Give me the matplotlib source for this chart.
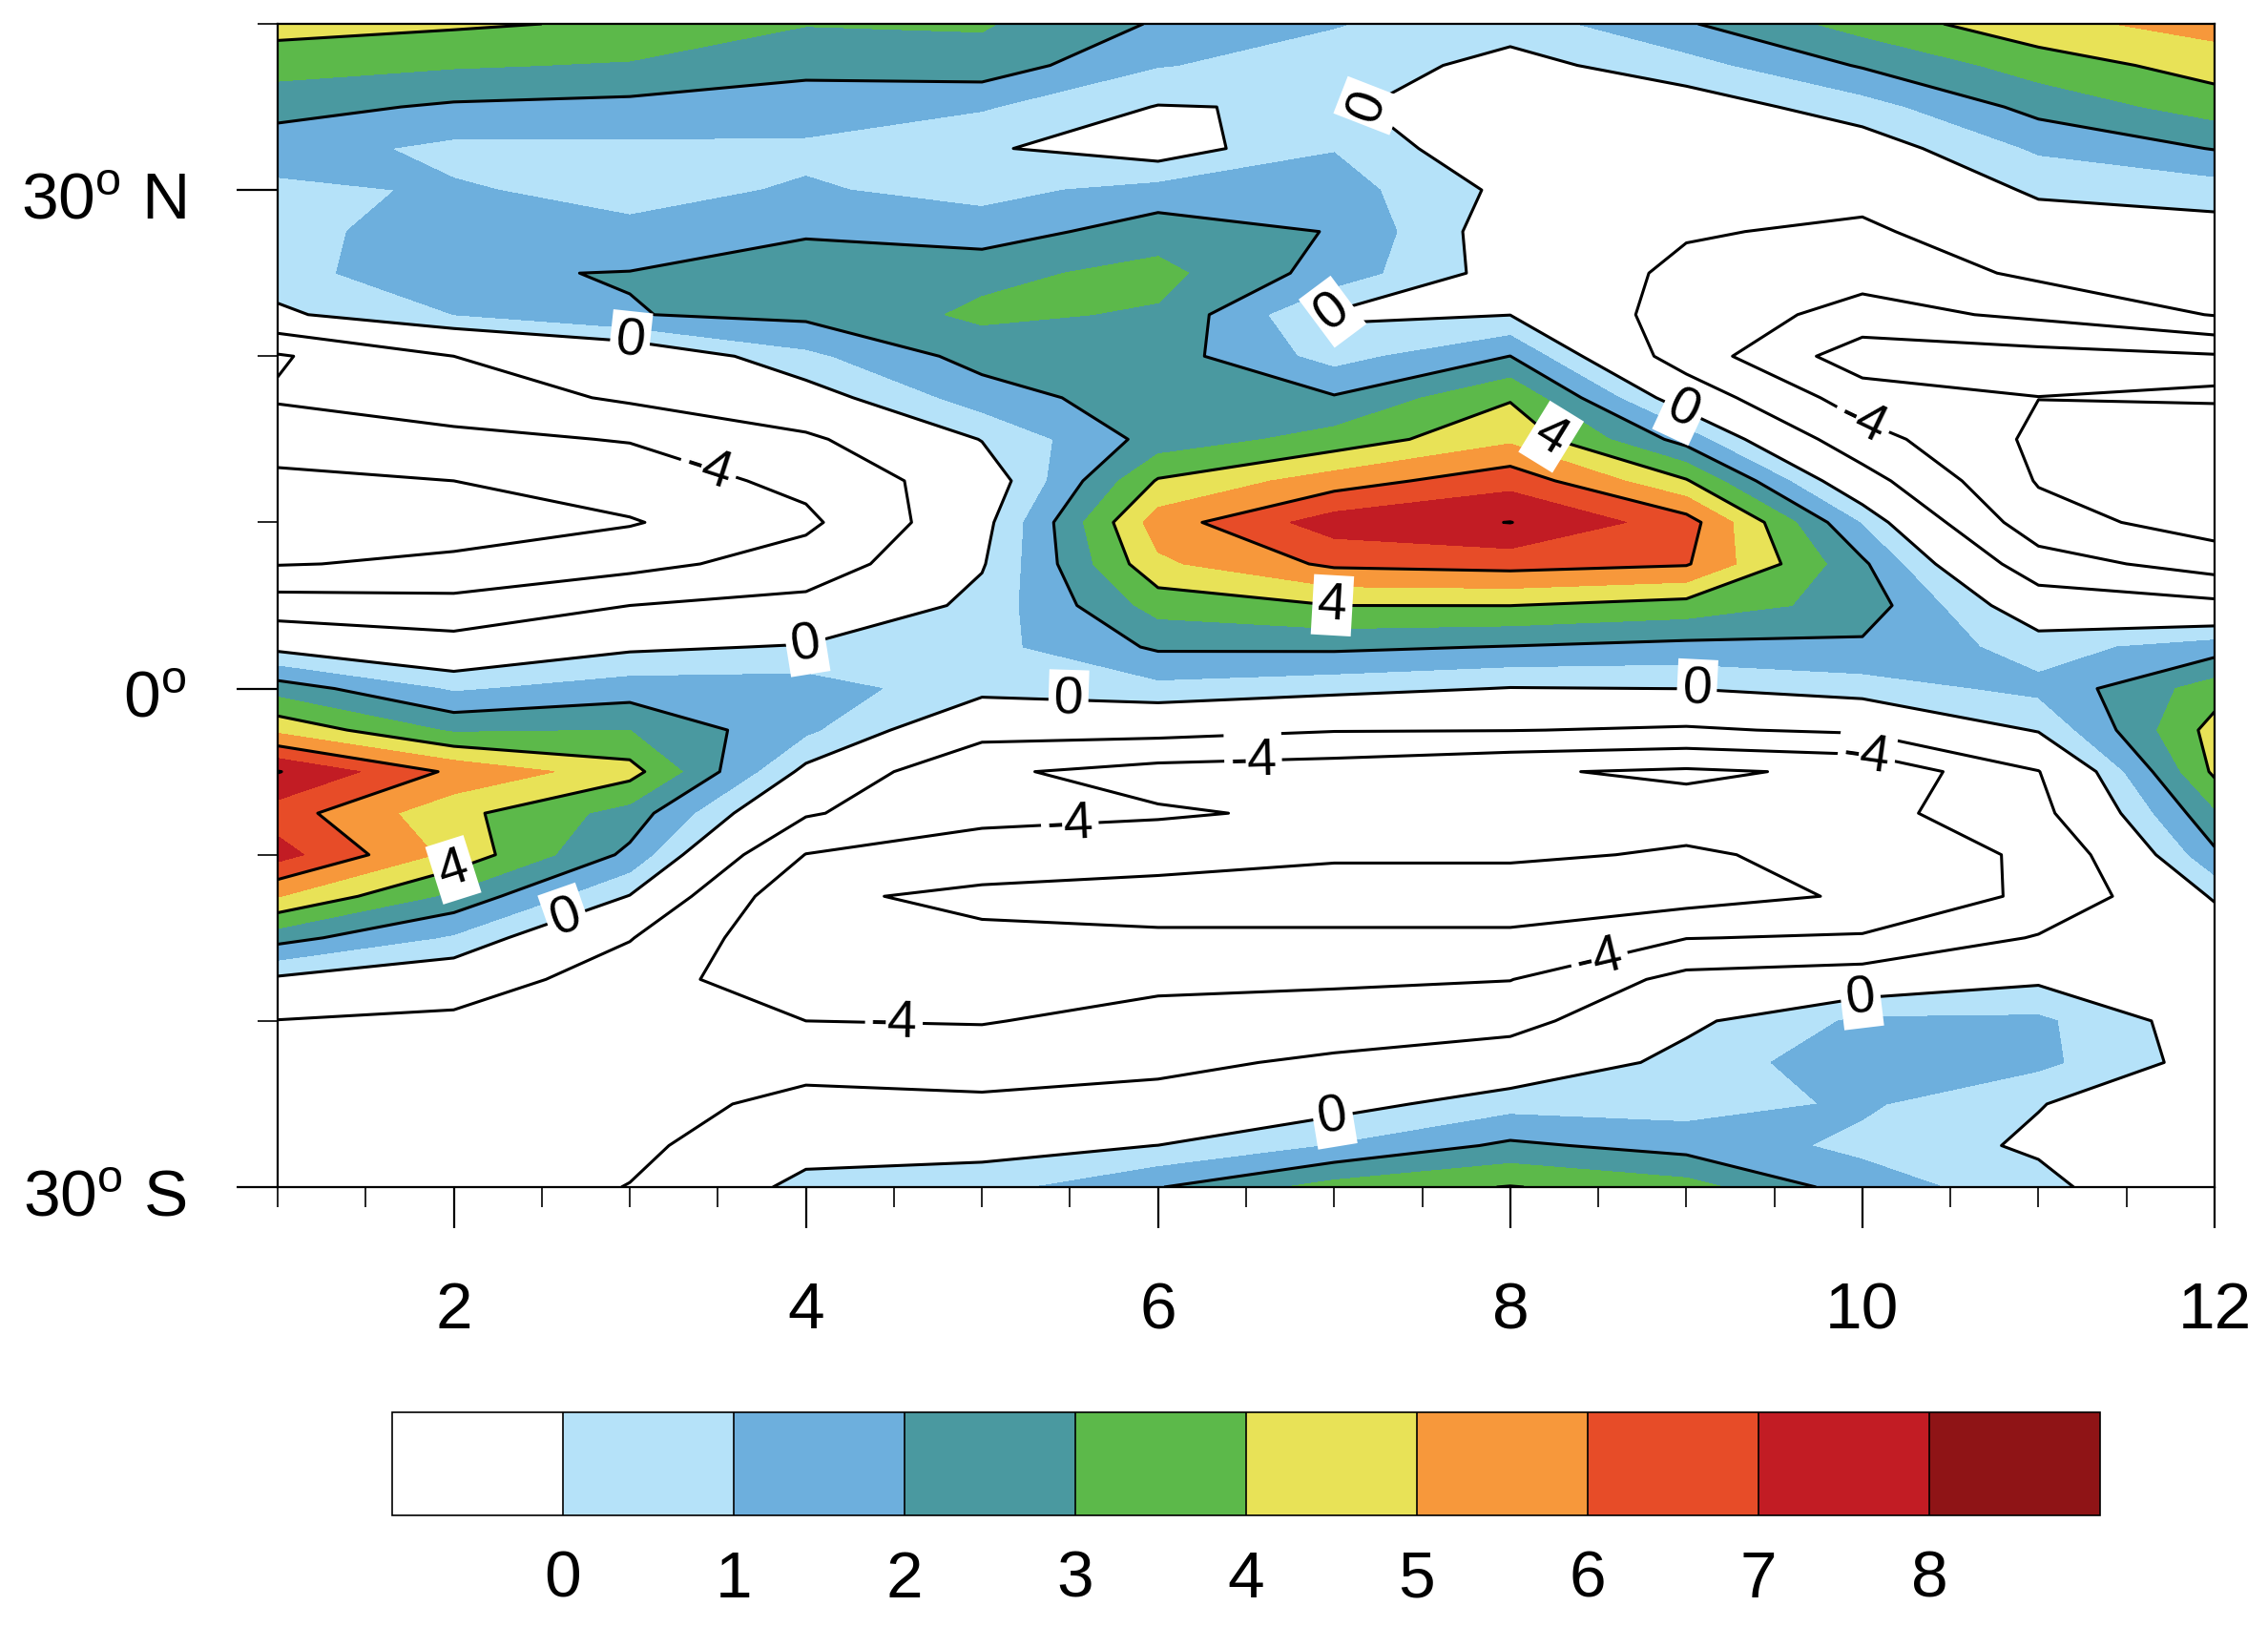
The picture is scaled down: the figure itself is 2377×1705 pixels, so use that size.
# month / latitude section with filled contours, NCL look
import numpy as np
import matplotlib
matplotlib.use('Agg')
import matplotlib.pyplot as plt
from matplotlib.transforms import Affine2D

plt.rcParams['font.family'] = ['Liberation Sans', 'DejaVu Sans']
plt.rcParams['mathtext.default'] = 'regular'

W, H = 2377, 1706

months = np.arange(1, 13)
lats = np.arange(40, -32.5, -2.5)

# values per month, from 40N down to 30S
m01 = [4.4,3.4,2.35,1.45,.8,.6,.55,-.21,-4.2,-3.8,-5.15,-6.4,-7,-6.1,-3,-.3,2.55,4.75,8.05,6.5,7.4,5.05,2.4,-.2,-2.05,-2.8,-3.2,-3.5,-3.6]
m02 = [4.15,3.1,1.85,.75,1.1,1.62,1.9,1.0,-2,-3.1,-4.4,-6.0,-6.7,-5.7,-3.3,-1.2,.85,2.85,5.8,4.3,4.7,2.75,.85,-.9,-2.4,-2.9,-3.1,-3.1,-3.0]
m03 = [3.85,2.9,1.7,.8,.7,1.2,2.04,1.96,-1.1,-1.7,-3.9,-5.0,-6.15,-4.6,-2.0,-.2,1.5,3.0,4.4,2.6,1.75,-.05,-1.9,-3.0,-3.1,-3.2,-2.7,-2.4,-1.95]
m04 = [3.05,2.25,1.55,.8,1.1,1.85,2.7,2.25,.75,-.55,-2.3,-3.5,-4.4,-3.1,-1.45,.1,1.5,1.2,-.3,-1.8,-4.05,-5.6,-5.8,-5.5,-4,-2.6,-1.5,-.6,.45]
m05 = [3.1,2.6,1.1,.13,.7,1.45,2.74,3.2,2.4,1.5,.05,-.82,-.4,-.1,.36,.65,.34,-1.3,-3.7,-3.6,-4.7,-6.5,-5.6,-5,-4.1,-3,-1.6,-.4,.6]
m06 = [1.9,1.05,-.05,-.6,1.35,2.55,3.3,2.88,2.5,2.6,2.4,4.1,5.5,4.8,3.4,2.15,.7,-1.35,-4.7,-3.8,-5.1,-6.9,-5.7,-4.4,-3.4,-2.4,-1.4,0.01,1.95]
m07 = [1.05,.6,.1,.95,1.45,1.95,1.57,-.15,.6,2.1,3.4,5.5,7.5,6.2,4.0,2.2,.35,-1.9,-5.0,-4.3,-5.7,-7.2,-5.6,-4.3,-3.0,-1.7,-.45,1.05,3.4]
m08 = [.45,-.37,-.45,-1.03,-.28,-.72,-.52,-.02,2.01,3.9,4.8,6.65,8.02,6.4,4.01,1.95,-.05,-1.95,-5.8,-4.6,-5.7,-7.2,-5.6,-4.05,-2.6,-1.0,.6,2.2,4.05]
m09 = [1.9,.6,-.6,-1,-1.4,-1.85,-2.4,-2.8,-2.9,-.8,1.6,4.1,6.47,6.1,3.6,1.7,0.01,-2.2,-6.3,-5.3,-6.2,-6.8,-4.05,-1.4,-.25,.35,.55,1.6,3.4]
m10 = [3.4,2.1,.55,-.6,-1.45,-2.3,-3.3,-4.7,-7.1,-5.0,-3.2,-1.2,.9,2.2,2.6,1.8,.55,-1.7,-5.65,-4.7,-5.5,-5.75,-3.8,-.95,1.2,1.7,1.15,.75,1.5]
m11 = [4.7,3.45,2.35,1.15,.2,-.7,-1.6,-3.6,-6.7,-5.98,-6.4,-6.15,-5.2,-3.1,-.95,.6,1.25,.1,-2.05,-2.5,-3.6,-3.56,-1.85,-.2,1.2,1.25,.05,-.2,.4]
m12 = [5.4,4.45,3.45,2.05,.5,-.45,-1.2,-1.9,-6.2,-5.92,-6.49,-7,-6.9,-4.9,-1.45,1.5,3.5,4.4,4.2,2.85,1.8,.15,-.9,-1,-.67,-.5,-1,-1.2,-1.6]

fill_levels = [-20, 0, 1, 2, 3, 4, 5, 6, 7, 8, 20]
fill_colors = ['#ffffff', '#b5e2f9', '#6dafdd', '#4a99a0', '#5cb94a',
               '#e8e257', '#f7983b', '#e74c28', '#c21c24', '#8f1416']
plain_levels = [-8, -6, -2, 2, 6, 8]
labelled_levels = [-4, 0, 4]

# hand placed contour labels (month, latitude)
label_spots = [(7.2, 35), (6.99, 22.7), (3.0, 20.8), (8.96, 16.3), (4.0, 2.7), (5.49, -1),
               (9.06, -0.1), (2.63, -13.5), (7.0, -26.2), (9.99, -18.6),
               (8.22, 15), (6.99, 5), (2.0, -11),
               (3.43, 12.7), (9.99, 15.9), (6.54, -4.4), (10.02, -4.2), (5.5, -8.4), (4.5, -20), (8.5, -16)]

fig = plt.figure(figsize=(W / 100, H / 100), dpi=100)
ax = fig.add_axes([291 / W, 1 - 1245 / H, (2321 - 291) / W, (1245 - 26) / H])

data = np.array([m01, m02, m03, m04, m05, m06, m07, m08, m09, m10, m11, m12]).T
cf = ax.contourf(months, lats, data, levels=fill_levels, colors=fill_colors)
ax.contour(months, lats, data, levels=plain_levels, colors='black', linestyles='solid', linewidths=2.2)
cl = ax.contour(months, lats, data, levels=labelled_levels, colors='black', linestyles='solid', linewidths=2.2)
labs = ax.clabel(cl, manual=label_spots, fmt='%d', fontsize=40, inline=True, inline_spacing=4)
for t in labs:
    t.set_bbox(dict(fc='white', ec='none', pad=4))

ax.set_xlim(1, 12)
ax.set_ylim(-30, 40)
ax.set_xticks([2, 4, 6, 8, 10, 12])
ax.set_xticks(np.arange(1, 12.5, 0.5), minor=True)
ax.set_yticks([-30, 0, 30])
ax.set_yticks([-20, -10, 10, 20, 40], minor=True)
ax.set_yticklabels(['30$^{o}$ S', '0$^{o}$', '30$^{o}$ N'])
ax.tick_params(axis='both', which='major', length=31, width=1.6, labelsize=50)
ax.tick_params(axis='both', which='minor', length=15, width=1.2)
ax.tick_params(axis='x', which='major', pad=39)
ax.tick_params(axis='y', which='major', pad=38)
for lab in ax.get_yticklabels():
    lab.set_transform(lab.get_transform() + Affine2D().translate(0, -4))
for s in ax.spines.values():
    s.set_linewidth(1.6)

cax = fig.add_axes([411 / W, 1 - 1589 / H, (2201 - 411) / W, (1589 - 1481) / H])
cb = fig.colorbar(cf, cax=cax, orientation='horizontal', spacing='uniform', drawedges=True, ticks=range(9))
cb.ax.tick_params(length=0, labelsize=50, pad=25)
cb.ax.minorticks_off()
cb.dividers.set_linewidth(1.2)
cb.outline.set_linewidth(1.2)

fig.savefig('out.png', dpi=100)
